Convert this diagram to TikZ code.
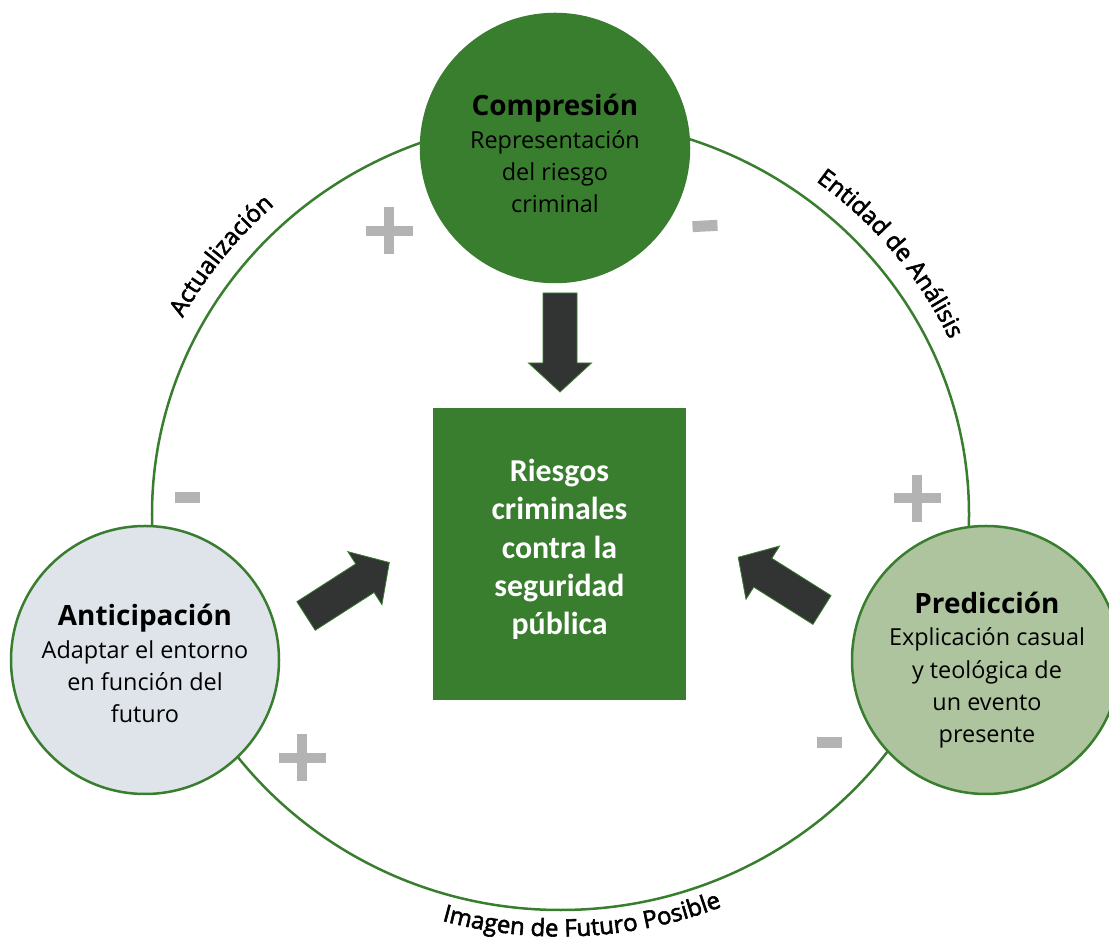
\documentclass[tikz,border=0pt]{standalone}
\usepackage{fontspec}
\setmainfont{Open Sans}
\newfontfamily\sqfont{Carlito}
\newfontfamily\arcfont{Open Sans}[FakeBold=2.4]
\usetikzlibrary{decorations.text}
\definecolor{vgreen}{RGB}{57,125,46}
\definecolor{antfill}{RGB}{222,228,233}
\definecolor{predfill}{RGB}{173,196,158}
\definecolor{arrowgray}{RGB}{50,52,51}
\definecolor{signgray}{RGB}{179,179,179}
\begin{document}
\begin{tikzpicture}[x=1bp,y=1bp,
  bubble/.style={circle, draw=vgreen, line width=2.5bp, minimum size=268bp, inner sep=0pt},
  bubbletext/.style={align=center, anchor=base, font=\fontsize{23.5}{32.5}\selectfont, text=black, inner sep=0pt},
  sqtext/.style={align=center, anchor=base, font=\sqfont\bfseries\fontsize{32}{38.5}\selectfont, text=white, inner sep=0pt},
  blockarrow/.style={fill=arrowgray, draw=vgreen, line width=0.8bp, line join=miter},
  arclabel/.style={decorate, decoration={text along path, text align=center, text={|\arcfont\fontsize{24}{28}\selectfont|#1}}},
  pics/blockarr/.style={code={\draw[blockarrow] (0,-17) -- (70,-17) -- (70,-31.5) -- (99,0) -- (70,31.5) -- (70,17) -- (0,17) -- cycle;}},
  pics/plussign/.style={code={\fill[signgray] (-23.5,-5) rectangle (23.5,5); \fill[signgray] (-5,-23.5) rectangle (5,23.5);}},
  pics/minussign/.style={code={\fill[signgray] (-12.5,-5.5) rectangle (12.5,5.5);}}
]
\useasboundingbox (0,0) rectangle (1109,943);
\clip (0,0) rectangle (1109,943);
% big cycle
\coordinate (cyc) at (560.5,428.5);
\draw[vgreen, line width=2.5bp] (cyc) ellipse [x radius=408.5bp, y radius=395.5bp];
% curved labels
\path[arclabel=Actualización] (cyc) ++(172:429bp and 415bp) arc[start angle=172, end angle=112, x radius=429bp, y radius=415bp];
\path[arclabel=Entidad de Análisis] (cyc) ++(70:429bp and 415bp) arc[start angle=70, end angle=8, x radius=429bp, y radius=415bp];
\path[arclabel=Imagen de Futuro Posible] (cyc) ++(-132:436bp and 422bp) arc[start angle=-132, end angle=-42, x radius=436bp, y radius=422bp];
% bubbles
\node[bubble, fill=vgreen] (comp) at (555,795) {};
\node[bubble, fill=antfill] (anti) at (145,283) {};
\node[bubble, fill=predfill] (pred) at (986,283) {};
\node[bubbletext] (compt) at (555,730) {{\bfseries\fontsize{28}{32.5}\selectfont Compresión}\\Representación\\del riesgo\\criminal};
\node[bubbletext] (antit) at (145,220) {{\bfseries\fontsize{28}{32.5}\selectfont Anticipación}\\Adaptar el entorno\\en función del\\futuro};
\node[bubbletext] (predt) at (987,200) {{\bfseries\fontsize{28}{32.5}\selectfont Predicción}\\Explicación casual\\y teológica de\\un evento\\presente};
% centre square
\node[fill=vgreen, minimum width=253bp, minimum height=292bp, inner sep=0pt] (risk) at (559.5,389) {};
\node[sqtext] (riskt) at (559.5,308) {Riesgos\\criminales\\contra la\\seguridad\\pública};
% block arrows
\pic[rotate=-90] at (560,650) {blockarr};
\pic[rotate=32.7] at (306,327) {blockarr};
\pic[rotate=147.8] at (822,333) {blockarr};
% signs
\pic at (389,712) {plussign};
\pic[rotate=3] at (705,717) {minussign};
\pic at (187,445.5) {minussign};
\pic at (302,185) {plussign};
\pic at (917,444.5) {plussign};
\pic at (829.5,200.5) {minussign};
\end{tikzpicture}
\end{document}
